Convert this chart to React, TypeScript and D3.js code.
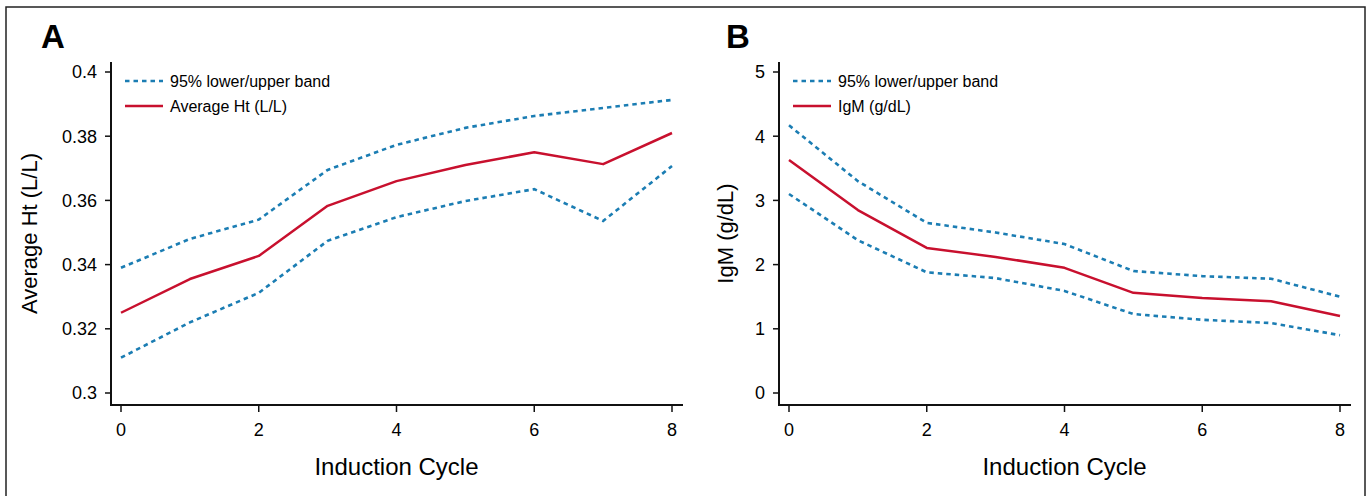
import React, { useEffect, useRef } from "react";
import * as d3 from "d3";

const cycles = [0, 1, 2, 3, 4, 5, 6, 7, 8];

// Panel A: average hematocrit
const htMean = [0.325, 0.3355, 0.3427, 0.3583, 0.366, 0.371, 0.375, 0.3713, 0.381];
const htUpper = [0.339, 0.348, 0.354, 0.3695, 0.3773, 0.3826, 0.3863, 0.3888, 0.3913];
const htLower = [0.311, 0.322, 0.3312, 0.3474, 0.3548, 0.3598, 0.3635, 0.3536, 0.3707];
const htTicks = [0.3, 0.32, 0.34, 0.36, 0.38, 0.4];

// Panel B: IgM
const igmMean = [3.63, 2.85, 2.26, 2.12, 1.95, 1.56, 1.48, 1.43, 1.2];
const igmUpper = [4.17, 3.3, 2.65, 2.5, 2.32, 1.9, 1.82, 1.78, 1.5];
const igmLower = [3.1, 2.38, 1.88, 1.79, 1.59, 1.23, 1.14, 1.09, 0.9];
const igmTicks = [0, 1, 2, 3, 4, 5];

const xTicks = [0, 2, 4, 6, 8];

const BLUE = "#1b7db3";
const RED = "#c8102e";
const FONT = "'Liberation Sans', Arial, Helvetica, sans-serif";

type Panel = {
  letter: string;
  left: number;
  letterX: number;
  titleX: number;
  yTitle: string;
  legendMain: string;
  mean: number[];
  upper: number[];
  lower: number[];
  yTicks: number[];
  fmt: (v: number) => string;
};

const panels: Panel[] = [
  {
    letter: "A",
    left: 0,
    letterX: 41,
    titleX: 37,
    yTitle: "Average Ht (L/L)",
    legendMain: "Average Ht (L/L)",
    mean: htMean,
    upper: htUpper,
    lower: htLower,
    yTicks: htTicks,
    fmt: (v) => String(+v.toFixed(2)),
  },
  {
    letter: "B",
    left: 668,
    letterX: 58,
    titleX: 65,
    yTitle: "IgM (g/dL)",
    legendMain: "IgM (g/dL)",
    mean: igmMean,
    upper: igmUpper,
    lower: igmLower,
    yTicks: igmTicks,
    fmt: (v) => String(v),
  },
];

export default function App() {
  const svgRef = useRef<SVGSVGElement>(null);
  const width = 1369;
  const height = 496;

  useEffect(() => {
    const svg = d3.select(svgRef.current);
    svg.selectAll("*").remove();

    // outer frame
    svg
      .append("rect")
      .attr("x", 6)
      .attr("y", 7)
      .attr("width", 1359)
      .attr("height", 500)
      .attr("fill", "none")
      .attr("stroke", "#222")
      .attr("stroke-width", 1.5);

    panels.forEach((p) => {
      const g = svg.append("g").attr("transform", `translate(${p.left},0)`);
      const axisX = 111;
      const axisY = 405;

      const x = d3.scaleLinear().domain([0, 8]).range([121, 672]);
      const yDomain = d3.extent(p.yTicks) as [number, number];
      const y = d3.scaleLinear().domain(yDomain).range([393, 72]);

      // panel letter
      g.append("text")
        .attr("x", p.letterX)
        .attr("y", 48)
        .attr("font-family", FONT)
        .attr("font-weight", "bold")
        .attr("font-size", 33)
        .text(p.letter);

      // axes lines
      g.append("line")
        .attr("x1", axisX)
        .attr("x2", axisX)
        .attr("y1", 62)
        .attr("y2", axisY + 1)
        .attr("stroke", "#111")
        .attr("stroke-width", 2);
      g.append("line")
        .attr("x1", axisX - 1)
        .attr("x2", 683)
        .attr("y1", axisY)
        .attr("y2", axisY)
        .attr("stroke", "#111")
        .attr("stroke-width", 2);

      // y ticks
      p.yTicks.forEach((t) => {
        g.append("line")
          .attr("x1", axisX - 6)
          .attr("x2", axisX)
          .attr("y1", y(t))
          .attr("y2", y(t))
          .attr("stroke", "#111")
          .attr("stroke-width", 1.5);
        g.append("text")
          .attr("x", axisX - 14)
          .attr("y", y(t))
          .attr("dy", "0.35em")
          .attr("text-anchor", "end")
          .attr("font-family", FONT)
          .attr("font-size", 18)
          .text(p.fmt(t));
      });

      // x ticks
      xTicks.forEach((t) => {
        g.append("line")
          .attr("x1", x(t))
          .attr("x2", x(t))
          .attr("y1", axisY)
          .attr("y2", axisY + 7)
          .attr("stroke", "#111")
          .attr("stroke-width", 1.5);
        g.append("text")
          .attr("x", x(t))
          .attr("y", 436)
          .attr("text-anchor", "middle")
          .attr("font-family", FONT)
          .attr("font-size", 18)
          .text(t);
      });

      // axis titles
      g.append("text")
        .attr("x", x(4))
        .attr("y", 475)
        .attr("text-anchor", "middle")
        .attr("font-family", FONT)
        .attr("font-size", 24)
        .text("Induction Cycle");
      g.append("text")
        .attr("transform", `translate(${p.titleX},${(62 + axisY) / 2}) rotate(-90)`)
        .attr("text-anchor", "middle")
        .attr("font-family", FONT)
        .attr("font-size", 22)
        .text(p.yTitle);

      const line = d3
        .line<number>()
        .x((_, i) => x(cycles[i]))
        .y((d) => y(d));

      [p.upper, p.lower].forEach((band) => {
        g.append("path")
          .attr("d", line(band))
          .attr("fill", "none")
          .attr("stroke", BLUE)
          .attr("stroke-width", 2.6)
          .attr("stroke-dasharray", "4.5,4");
      });
      g.append("path")
        .attr("d", line(p.mean))
        .attr("fill", "none")
        .attr("stroke", RED)
        .attr("stroke-width", 2.5)
        .attr("stroke-linejoin", "round");

      // legend
      const legend = g.append("g").attr("transform", "translate(125,0)");
      legend
        .append("line")
        .attr("x1", 0)
        .attr("x2", 38)
        .attr("y1", 81)
        .attr("y2", 81)
        .attr("stroke", BLUE)
        .attr("stroke-width", 2.6)
        .attr("stroke-dasharray", "4.5,4");
      legend
        .append("text")
        .attr("x", 45)
        .attr("y", 81)
        .attr("dy", "0.35em")
        .attr("font-family", FONT)
        .attr("font-size", 16)
        .text("95% lower/upper band");
      legend
        .append("line")
        .attr("x1", 0)
        .attr("x2", 38)
        .attr("y1", 106)
        .attr("y2", 106)
        .attr("stroke", RED)
        .attr("stroke-width", 2.5);
      legend
        .append("text")
        .attr("x", 45)
        .attr("y", 106)
        .attr("dy", "0.35em")
        .attr("font-family", FONT)
        .attr("font-size", 16)
        .text(p.legendMain);
    });
  }, []);

  return (
    <svg
      ref={svgRef}
      width={width}
      height={height}
      style={{ display: "block", position: "absolute", left: 0, top: 0, background: "#fff" }}
    />
  );
}
